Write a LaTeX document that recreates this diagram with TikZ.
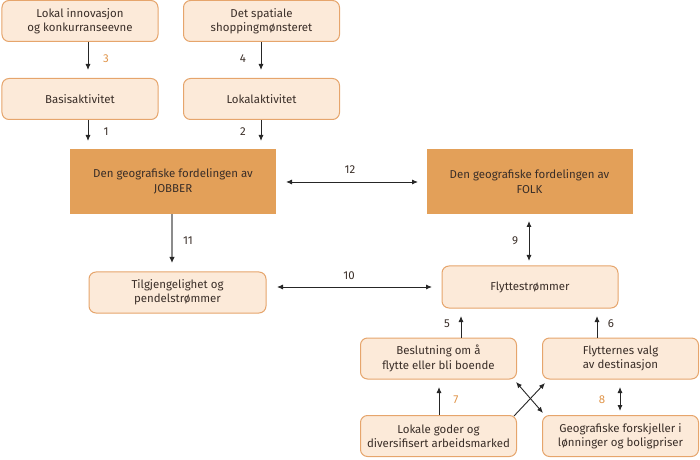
\documentclass[tikz,border=0pt]{standalone}
\usepackage{fontspec}
\setmainfont{Fira Sans}[Scale=1]
\usetikzlibrary{arrows.meta}
\definecolor{lightfill}{HTML}{FCEAD9}
\definecolor{lightdraw}{HTML}{E6A56C}
\definecolor{darkfill}{HTML}{E3A059}
\definecolor{txt}{HTML}{3A2E28}
\definecolor{numorange}{HTML}{E0954A}
\tikzset{
  lbox/.style={draw=lightdraw, fill=lightfill, rounded corners=7bp, line width=1bp,
    minimum width=156bp, minimum height=41bp, align=center, text=txt, font=\fontsize{11.5}{14.5}\selectfont, inner sep=0pt},
  dbox/.style={fill=darkfill, minimum width=206bp, minimum height=65bp, align=center, text=txt, font=\fontsize{11.5}{14.5}\selectfont, inner sep=0pt},
  tip/.tip={Latex[length=6bp,width=5bp]},
  arr/.style={-tip, line width=0.9bp, draw=black!85},
  darr/.style={tip-tip, line width=0.9bp, draw=black!85},
  num/.style={text=txt, font=\fontsize{11.5}{13}\selectfont, inner sep=0pt},
  onum/.style={text=numorange, font=\fontsize{11.5}{13}\selectfont, inner sep=0pt},
}
\begin{document}
\begin{tikzpicture}[x=1bp,y=-1bp]
\useasboundingbox (0,0) rectangle (700,460);
% boxes
\node[lbox] (innov) at (80,21) {Lokal innovasjon\\og konkurranseevne};
\node[lbox] (spat) at (261.5,21) {Det spatiale\\shoppingmønsteret};
\node[lbox] (basis) at (80,99) {Basisaktivitet};
\node[lbox] (lokal) at (261.5,99) {Lokalaktivitet};
\node[dbox] (jobb) at (173,181.5) {Den geografiske fordelingen av\\JOBBER};
\node[dbox] (folk) at (529.5,181.5) {Den geografiske fordelingen av\\FOLK};
\node[lbox, minimum width=177bp] (tilg) at (177.5,292.5) {Tilgjengelighet og\\pendelstrømmer};
\node[lbox, minimum width=176bp, minimum height=42bp] (flytt) at (530,287) {Flyttestrømmer};
\node[lbox] (besl) at (438.5,358.5) {Beslutning om å\\flytte eller bli boende};
\node[lbox] (valg) at (620.5,358.5) {Flytternes valg\\av destinasjon};
\node[lbox] (goder) at (438.5,436) {Lokale goder og\\diversifisert arbeidsmarked};
\node[lbox] (geo) at (620.5,436) {Geografiske forskjeller i\\lønninger og boligpriser};
% coordinates for free ends
\coordinate (a3e) at (88,70);
\coordinate (a4e) at (261,70);
\coordinate (a1e) at (88,141);
\coordinate (a2e) at (261,141);
% arrows
\draw[arr] (innov.south -| a3e) -- (a3e);
\node[onum] (n3) at (106,59) {3};
\draw[arr] (spat.south -| a4e) -- (a4e);
\node[num] (n4) at (243,59) {4};
\draw[arr] (basis.south -| a1e) -- (a1e);
\node[num] (n1) at (106,132) {1};
\draw[arr] (lokal.south -| a2e) -- (a2e);
\node[num] (n2) at (243,132) {2};
% 12
\coordinate (a12l) at (286,182);
\coordinate (a12r) at (418,182);
\draw[darr] (a12l) -- (a12r);
\node[num] (n12) at (350,170) {12};
% 11
\coordinate (a11e) at (172,263);
\draw[-{Latex[length=6bp,width=5.5bp,color=black!85]}, line width=1.8bp, draw=black!45] (jobb.south -| a11e) -- (a11e);
\node[num] (n11) at (188,241) {11};
% 10
\coordinate (a10l) at (277,287);
\coordinate (a10r) at (432,287);
\draw[darr] (a10l) -- (a10r);
\node[num] (n10) at (349,276) {10};
% 9
\coordinate (a9t) at (529,221);
\coordinate (a9b) at (529,261);
\draw[darr] (a9t) -- (a9b);
\node[num] (n9) at (515,241) {9};
% 5, 6
\coordinate (a5e) at (461,316);
\draw[arr] (besl.north -| a5e) -- (a5e);
\node[num] (n5) at (447,324) {5};
\coordinate (a6e) at (597,316);
\draw[arr] (valg.north -| a6e) -- (a6e);
\node[num] (n6) at (611,324) {6};
% 7
\coordinate (a7e) at (439,387);
\draw[arr] (goder.north -| a7e) -- (a7e);
\node[onum] (n7) at (456,400) {7};
% 8
\coordinate (a8t) at (620,387);
\coordinate (a8b) at (620,411);
\draw[darr] (a8t) -- (a8b);
\node[onum] (n8) at (602,400) {8};
% cross
\coordinate (cgs) at (514,416);
\coordinate (cge) at (545,383);
\draw[arr] (cgs) -- (cge);
\coordinate (cbs) at (516,382);
\coordinate (cbe) at (543,413);
\draw[darr] (cbs) -- (cbe);
\end{tikzpicture}
\end{document}
